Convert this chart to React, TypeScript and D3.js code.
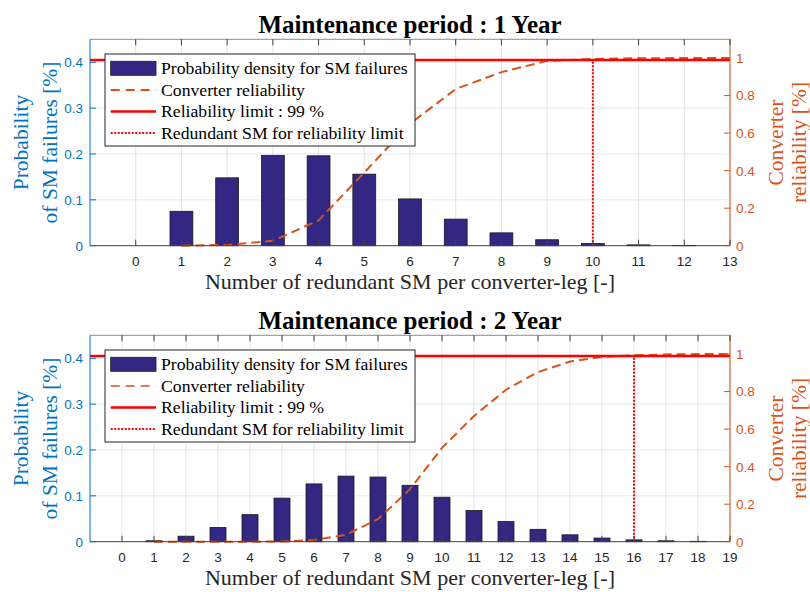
import React from "react";
import * as d3 from "d3";

// ---- data -------------------------------------------------------------
const panelTitles = ["Maintenance period : 1 Year", "Maintenance period : 2 Year"];

// 1-year maintenance period
const smCount1 = [1, 2, 3, 4, 5, 6, 7, 8, 9, 10, 11, 12];
const failureProb1 = [0.075, 0.148, 0.197, 0.196, 0.156, 0.102, 0.058, 0.028, 0.013, 0.005, 0.0018, 0.0006];
const relX1 = [1, 2, 3, 4, 5, 6, 7, 8, 9, 10, 11, 12, 13];
const reliability1 = [0, 0.004, 0.026, 0.135, 0.39, 0.65, 0.835, 0.925, 0.985, 0.995, 0.999, 1, 1];
const xTicks1 = d3.range(0, 14);
const redundantSM1 = 10;

// 2-year maintenance period
const smCount2 = [1, 2, 3, 4, 5, 6, 7, 8, 9, 10, 11, 12, 13, 14, 15, 16, 17, 18];
const failureProb2 = [0.002, 0.012, 0.031, 0.059, 0.095, 0.126, 0.143, 0.141, 0.123, 0.097, 0.068, 0.044, 0.027, 0.015, 0.008, 0.004, 0.002, 0.0008];
const relX2 = [1, 2, 3, 4, 5, 6, 7, 8, 9, 10, 11, 12, 13, 14, 15, 16, 17, 18, 19];
const reliability2 = [0, 0, 0, 0, 0.001, 0.009, 0.037, 0.12, 0.28, 0.5, 0.67, 0.81, 0.904, 0.96, 0.984, 0.993, 0.998, 1, 1];
const xTicks2 = d3.range(0, 20);
const redundantSM2 = 16;

const reliabilityLimit = 0.99;
const leftTicks = [0, 0.1, 0.2, 0.3, 0.4];
const rightTicks = [0, 0.2, 0.4, 0.6, 0.8, 1];
const legendLabels = [
  "Probability density for SM failures",
  "Converter reliability",
  "Reliability limit : 99 %",
  "Redundant SM for reliability limit",
];

// ---- style ------------------------------------------------------------
const BLUE = "#0072BD";
const ORANGE = "#D95319";
const BAR = "#322884";
const AXIS = "#404040";
const SERIF = "'Liberation Serif', 'Times New Roman', serif";
const SANS = "'Liberation Sans', Arial, Helvetica, sans-serif";

type PanelProps = {
  offsetY: number;
  title: string;
  counts: number[];
  probs: number[];
  relX: number[];
  rel: number[];
  ticks: number[];
  xMax: number;
  redundant: number;
  legendDash: number;
};

function Panel({ offsetY, title, counts, probs, relX, rel, ticks, xMax, redundant, legendDash }: PanelProps) {
  const left = 90;
  const right = 730;
  const top = offsetY + 39.3;
  const bottom = offsetY + 245.7;

  const x = d3.scaleLinear().domain([-1, xMax]).range([left, right]);
  const yL = d3.scaleLinear().domain([0, 0.45]).range([bottom, top]);
  const yR = d3.scaleLinear().domain([0, 1.1]).range([bottom, top]);
  const barW = x(0.5) - x(0);

  const relLine = d3
    .line<number>()
    .x((_, i) => x(relX[i]))
    .y((v) => yR(v))(rel) as string;

  const lx0 = 105;
  const lx1 = 415;
  const ly0 = top + 14.7;
  const ly1 = top + 106.7;
  const rowY = [29, 50.7, 72.2, 93.8].map((d) => top + d);
  const symX0 = 110.7;
  const symX1 = 156;
  const textX = 161;

  const midY = (top + bottom) / 2;

  return (
    <g>
      <text x={410} y={offsetY + 33.3} textAnchor="middle" fontFamily={SERIF} fontWeight="bold" fontSize={25} fill="#000">
        {title}
      </text>

      {/* grid */}
      {ticks.map((t) => (
        <line key={"vg" + t} x1={x(t)} x2={x(t)} y1={top} y2={bottom} stroke="#262626" strokeOpacity={0.13} strokeWidth={1} />
      ))}
      {leftTicks.slice(1).map((t) => (
        <line key={"hg" + t} x1={left} x2={right} y1={yL(t)} y2={yL(t)} stroke={BLUE} strokeOpacity={0.13} strokeWidth={1} />
      ))}

      {/* probability bars */}
      {counts.map((c, i) => (
        <rect
          key={"b" + c}
          x={x(c) - barW / 2}
          y={yL(probs[i])}
          width={barW}
          height={bottom - yL(probs[i])}
          fill={BAR}
          stroke="#1a1a1a"
          strokeWidth={0.8}
        />
      ))}

      {/* converter reliability */}
      <path d={relLine} fill="none" stroke={ORANGE} strokeWidth={2} strokeDasharray="9,5" />

      {/* reliability limit */}
      <line x1={left} x2={right} y1={yR(reliabilityLimit)} y2={yR(reliabilityLimit)} stroke="#FF0000" strokeWidth={2.5} />
      <line
        x1={x(redundant)}
        x2={x(redundant)}
        y1={bottom}
        y2={yR(reliabilityLimit)}
        stroke="#FF0000"
        strokeWidth={2}
        strokeDasharray="2,1.5"
      />

      {/* axes box */}
      <line x1={left} x2={right} y1={top} y2={top} stroke={AXIS} strokeOpacity={0.6} strokeWidth={1} />
      <line x1={left} x2={right} y1={bottom} y2={bottom} stroke={AXIS} strokeWidth={1} />
      <line x1={left} x2={left} y1={top} y2={bottom} stroke={BLUE} strokeWidth={1} />
      <line x1={right} x2={right} y1={top} y2={bottom} stroke={ORANGE} strokeWidth={1} />

      {/* x ticks */}
      {ticks.map((t) => (
        <g key={"xt" + t}>
          <line x1={x(t)} x2={x(t)} y1={bottom} y2={bottom - 6} stroke={AXIS} strokeWidth={1} />
          <line x1={x(t)} x2={x(t)} y1={top} y2={top + 6} stroke={AXIS} strokeWidth={1} />
          <text x={x(t)} y={bottom + 20.5} textAnchor="middle" fontFamily={SANS} fontSize={13.5} fill="#262626">
            {t}
          </text>
        </g>
      ))}

      {/* left ticks */}
      {leftTicks.map((t) => (
        <g key={"lt" + t}>
          <line x1={left} x2={left + 6} y1={yL(t)} y2={yL(t)} stroke={BLUE} strokeWidth={1} />
          <text x={left - 7} y={yL(t)} dy="0.36em" textAnchor="end" fontFamily={SANS} fontSize={13.5} fill={BLUE}>
            {t}
          </text>
        </g>
      ))}

      {/* right ticks */}
      {rightTicks.map((t) => (
        <g key={"rt" + t}>
          <line x1={right} x2={right - 6} y1={yR(t)} y2={yR(t)} stroke={ORANGE} strokeWidth={1} />
          <text x={right + 6} y={yR(t)} dy="0.36em" textAnchor="start" fontFamily={SANS} fontSize={13.5} fill={ORANGE}>
            {t}
          </text>
        </g>
      ))}

      {/* axis labels */}
      <text x={410} y={offsetY + 289} textAnchor="middle" fontFamily={SERIF} fontSize={22} fill="#262626">
        Number of redundant SM per converter-leg [-]
      </text>
      <g transform={`translate(0, ${midY}) rotate(-90)`} fontFamily={SERIF} fontSize={21.5} fill={BLUE} textAnchor="middle">
        <text x={0} y={27.5}>Probability</text>
        <text x={0} y={57}>of SM failures [%]</text>
      </g>
      <g transform={`translate(0, ${midY}) rotate(-90)`} fontFamily={SERIF} fontSize={21.5} fill={ORANGE} textAnchor="middle">
        <text x={0} y={782.5}>Converter</text>
        <text x={0} y={805.5}>reliability [%]</text>
      </g>

      {/* legend */}
      <rect x={lx0} y={ly0} width={lx1 - lx0} height={ly1 - ly0} fill="#fff" stroke="#262626" strokeWidth={1} />
      <rect x={symX0} y={rowY[0] - 7} width={symX1 - symX0} height={14} fill={BAR} stroke="#1a1a1a" strokeWidth={0.8} />
      <line x1={symX0} x2={symX1} y1={rowY[1]} y2={rowY[1]} stroke={ORANGE} strokeWidth={legendDash} strokeDasharray="9,6" />
      <line x1={symX0} x2={symX1} y1={rowY[2]} y2={rowY[2]} stroke="#FF0000" strokeWidth={2.5} />
      <line x1={symX0} x2={symX1} y1={rowY[3]} y2={rowY[3]} stroke="#FF0000" strokeWidth={2} strokeDasharray="2,1.5" />
      {legendLabels.map((l, i) => (
        <text key={l} x={textX} y={rowY[i]} dy="0.33em" fontFamily={SERIF} fontSize={17.7} fill="#000">
          {l}
        </text>
      ))}
    </g>
  );
}

export default function App() {
  return (
    <svg
      width={810}
      height={592}
      viewBox="0 0 810 592"
      style={{ position: "absolute", left: 0, top: 0, background: "#fff" }}
    >
      <rect width={810} height={592} fill="#fff" />
      <Panel
        offsetY={0}
        title={panelTitles[0]}
        counts={smCount1}
        probs={failureProb1}
        relX={relX1}
        rel={reliability1}
        ticks={xTicks1}
        xMax={13}
        redundant={redundantSM1}
        legendDash={2}
      />
      <Panel
        offsetY={296}
        title={panelTitles[1]}
        counts={smCount2}
        probs={failureProb2}
        relX={relX2}
        rel={reliability2}
        ticks={xTicks2}
        xMax={19}
        redundant={redundantSM2}
        legendDash={1.5}
      />
    </svg>
  );
}
